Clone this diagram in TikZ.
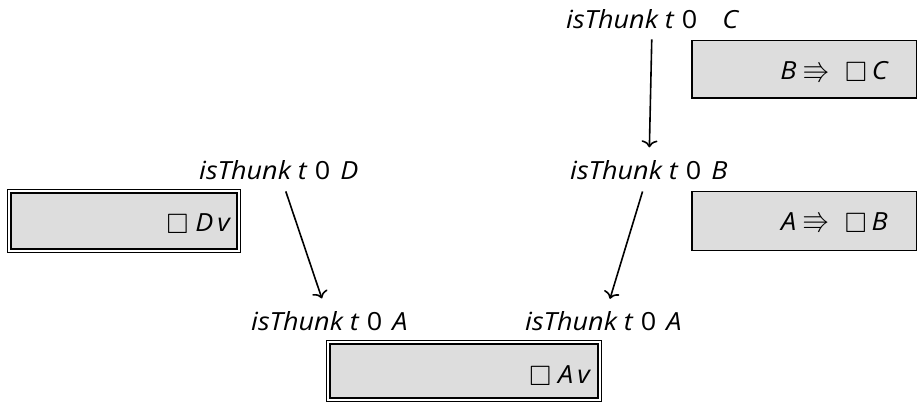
\documentclass[tikz,border=0pt]{standalone}
\usepackage{amssymb}
\usepackage{graphicx}
\usepackage{fontspec}
\setmainfont{Open Sans}[FakeStretch=1.08]
\usetikzlibrary{arrows.meta}
\definecolor{boxgray}{RGB}{221,221,221}
\tikzset{
  boxfill/.style={fill=boxgray},
  singlebox/.style={boxfill, draw=black, line width=1.5pt},
  doublebox/.style={boxfill, draw=black, line width=1.4pt, double=white, double distance=2pt},
  lbl/.style={inner sep=3pt, anchor=base west, font=\fontsize{25}{30}\selectfont\itshape},
  boxtxt/.style={inner sep=0pt, anchor=base east, font=\fontsize{25}{30}\selectfont\itshape},
  arr/.style={line width=1.6pt, -{To[length=7pt,width=16pt]}}
}
\newcommand{\sq}{\raisebox{-2pt}{\scalebox{1.12}{$\square$}}}
\newcommand{\rr}{\raisebox{0.5pt}{\scalebox{1.1}{$\Rrightarrow$}}}
\newcommand{\zero}{{\upshape 0}}
\begin{document}
\begin{tikzpicture}[x=1pt,y=-1pt]
\useasboundingbox (0,0) rectangle (917,403);
% boxes
\path[singlebox] (691.75,40.75) rectangle (916.25,98.25);
\path[singlebox] (691.75,191.75) rectangle (916.25,250.25);
\path[doublebox] (9.4,191.4) rectangle (238.6,250.6);
\path[doublebox] (328.4,342.4) rectangle (599.6,399.6);
% box texts
\node[boxtxt] (tC) at (888,80) {B\hspace{6pt}\rr\hspace{15pt}\sq\hspace{5pt}C};
\node[boxtxt] (tB) at (888,230) {A\hspace{6pt}\rr\hspace{15pt}\sq\hspace{5pt}B};
\node[boxtxt] (tD) at (230,231.5) {\sq\hspace{7pt}D\hspace{4pt}v};
\node[boxtxt] (tA) at (590,383) {\sq\hspace{7pt}A\hspace{4pt}v};
% labels
\node[lbl] (lC) at (563,28.3) {isThunk\hspace{7pt}t\hspace{8pt}\zero\hspace{25pt}C};
\node[lbl] (lD) at (196,180) {isThunk\hspace{7pt}t\hspace{8pt}\zero\hspace{10pt}D};
\node[lbl] (lB) at (567,180) {isThunk\hspace{7pt}t\hspace{8pt}\zero\hspace{10pt}B};
\node[lbl] (lA1) at (248,330) {isThunk\hspace{7pt}t\hspace{8pt}\zero\hspace{10pt}A};
\node[lbl] (lA2) at (522,330) {isThunk\hspace{7pt}t\hspace{8pt}\zero\hspace{10pt}A};
% arrows
\draw[arr, shorten <=7.7pt, shorten >=10.4pt] (lC) -- (lB);
\draw[arr, shorten <=8.4pt, shorten >=9.9pt] (lD) -- (lA1);
\draw[arr, shorten <=8.4pt, shorten >=9.4pt] (lB) -- (lA2);
\end{tikzpicture}
\end{document}
